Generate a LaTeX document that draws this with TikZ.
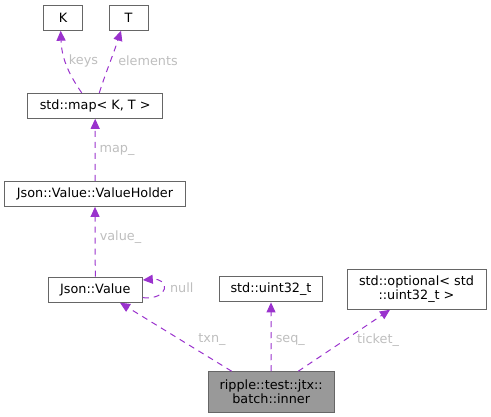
\documentclass[tikz,border=0pt]{standalone}
\usepackage{fontspec}
\setmainfont{DejaVu Sans}
\usetikzlibrary{arrows.meta}
\definecolor{edgeclr}{HTML}{9A32CD}
\definecolor{boxclr}{HTML}{666666}
\definecolor{lblclr}{HTML}{BEBEBE}
\definecolor{curclr}{HTML}{999999}

\begin{document}
\begin{tikzpicture}[x=1pt,y=1pt,font=\fontsize{12.8}{13.4}\selectfont,
    cls/.style={draw=boxclr,line width=1pt,fill=white,minimum height=25pt,inner sep=0pt,align=center},
    rel/.style={edgeclr,line width=1pt,dash pattern=on 6pt off 5pt,-{Triangle[length=10pt,width=9pt]}},
    lbl/.style={text=lblclr}]
    \useasboundingbox (0,0) rectangle (491,-417);

    % Klassen
    \node[cls,minimum width=39pt] (K) at (63,-17.7) {K};
    \node[cls,minimum width=39pt] (T) at (128.5,-17.7) {T};
    \node[cls,minimum width=135pt] (map) at (95.2,-105.8) {std::map< K, T >};
    \node[cls,minimum width=180.6pt] (holder) at (95,-193.9) {Json::Value::ValueHolder};
    \node[cls,minimum width=94pt] (jval) at (95.3,-289.7) {Json::Value};
    \node[cls,minimum width=103.4pt] (uint) at (271,-289.4) {std::uint32\_t};
    \node[cls,minimum width=139pt,minimum height=40pt] (opt) at (416.5,-289.3) {std::optional< std\\::uint32\_t >};
    \node[cls,fill=curclr,minimum width=125.7pt,minimum height=40.3pt] (inner) at (271.2,-391.9) {ripple::test::jtx::\\batch::inner};

    % Beziehungen
    \draw[rel] ([xshift=-13.5pt]map.north) to[out=125,in=-88] ([xshift=-2.3pt]K.south);
    \node[lbl] (keys) at (83.5,-61) {keys};
    \draw[rel] ([xshift=4.1pt]map.north) to[out=72,in=-108] ([xshift=-7.5pt]T.south);
    \node[lbl] (elements) at (148,-61) {elements};

    \draw[rel] (holder.north) -- (map.south);
    \node[lbl] (mapl) at (117,-150) {map\_};

    \draw[rel] (jval.north) -- (holder.south);
    \node[lbl] (valuel) at (120.5,-237) {value\_};

    \draw[rel] ([yshift=-8pt]jval.east) .. controls (170,-300) and (170,-278) .. ([yshift=9.7pt]jval.east);
    \node[lbl] (nulll) at (181.7,-288) {null};

    \draw[rel] ([xshift=-39.5pt]inner.north) -- ([xshift=24.7pt]jval.south);
    \node[lbl] (txnl) at (212,-340) {txn\_};

    \draw[rel] (inner.north) -- (uint.south);
    \node[lbl] (seql) at (290.3,-340) {seq\_};

    \draw[rel] ([xshift=27pt]inner.north) -- ([xshift=-26.5pt]opt.south);
    \node[lbl] (ticketl) at (378,-340) {ticket\_};

\end{tikzpicture}
\end{document}
